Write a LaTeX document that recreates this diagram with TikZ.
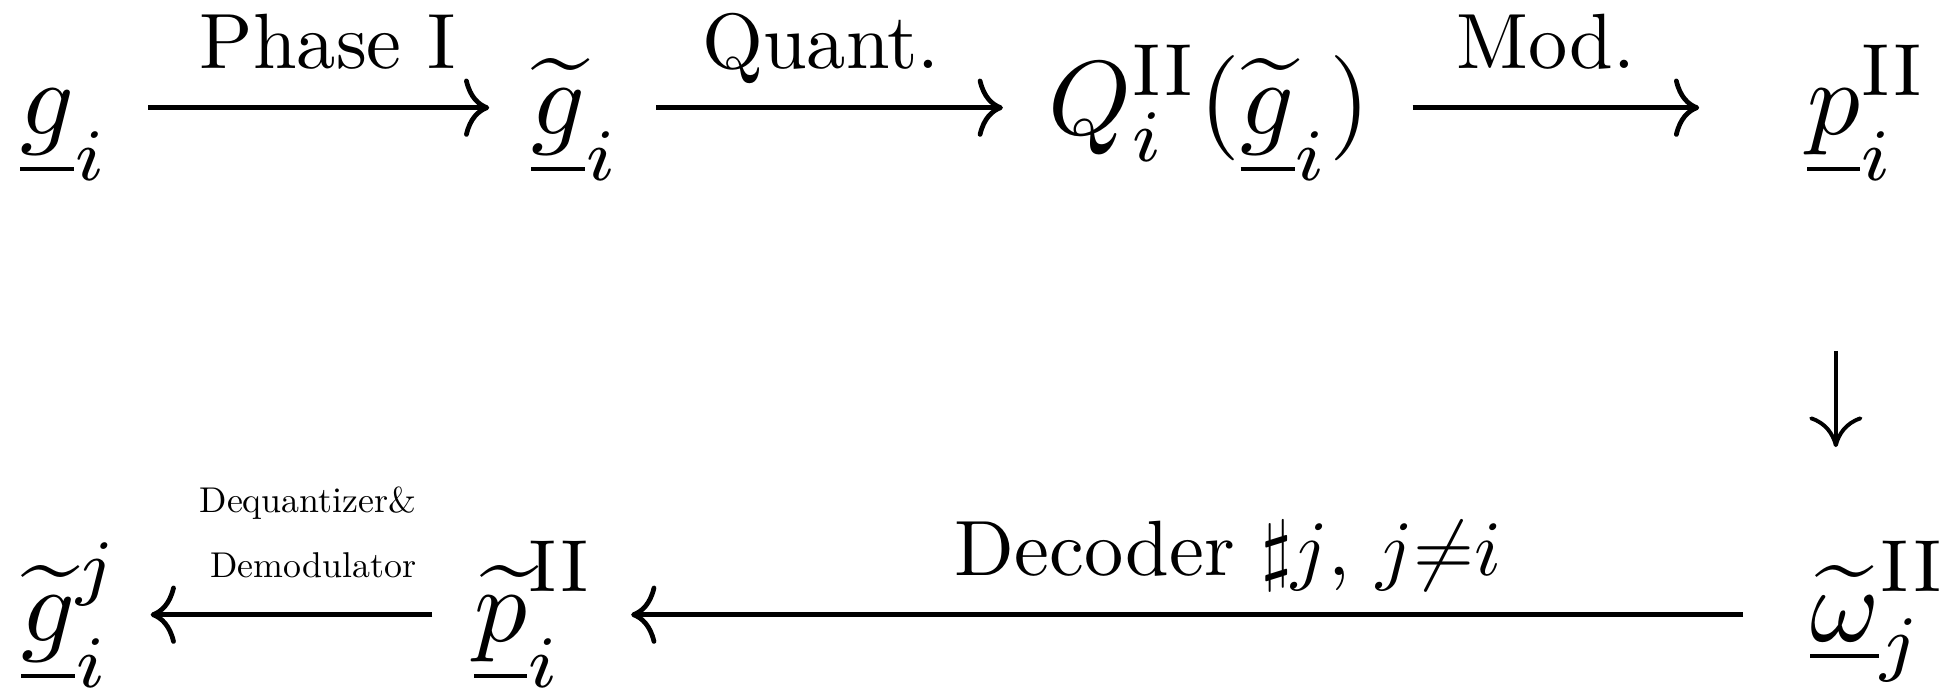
\RequirePackage{fix-cm}
\documentclass[tikz,border=0pt]{standalone}
\usepackage{amsmath}
\usepackage{amssymb}
\usepackage{tikz}
\usetikzlibrary{arrows.meta}

\tikzset{
  mathnode/.style={inner sep=0pt, anchor=base west, text height=8pt, text depth=3pt,
    font=\normalsize, scale=1.88},
  lbl/.style={inner sep=0pt, anchor=base, font=\normalsize, scale=1.4},
  tinylbl/.style={inner sep=0pt, anchor=base east, font=\normalsize, scale=0.64},
  arr/.style={line width=0.85pt, -{Computer Modern Rightarrow[length=4.5pt,width=10.4pt]}},
}

\begin{document}
\begin{tikzpicture}[x=0.17857pt, y=-0.17857pt]
    \useasboundingbox (0,0) rectangle (1952,693);

    % top row
    \node[mathnode] (gi) at (18,134) {$\underline{g}_i$};
    \node[mathnode] (gt) at (529,134) {$\underline{\widetilde{g}}_i$};
    \node[mathnode] (qg) at (1046,134) {$Q^{\mathrm{II}}_i(\underline{\widetilde{g}}_i)$};
    \node[mathnode] (pII) at (1805,134) {$\underline{p}^{\mathrm{II}}_i$};

    % bottom row
    \node[mathnode] (gj) at (19,641) {$\underline{\widetilde{g}}^j_i$};
    \node[mathnode] (pt) at (472,641) {$\underline{\widetilde{p}}^{\mathrm{II}}_i$};
    \node[mathnode] (wII) at (1808,641) {$\underline{\widetilde{\omega}}^{\mathrm{II}}_j$};

    \node[lbl] (phase) at (328,68) {Phase I};
    \node[lbl] (quant) at (821,68) {Quant.};
    \node[lbl] (mod) at (1546,68) {Mod.};
    \node[lbl] (dec) at (1228,575) {Decoder $\sharp j$, $j{\neq}i$};
    \node[tinylbl] (deq) at (417,512) {Dequantizer\&};
    \node[tinylbl] (demod) at (417,577) {Demodulator};

    \draw[arr, shorten <=6.6pt, shorten >=7.1pt] (gi) -- (gt);
    \draw[arr, shorten <=6.1pt, shorten >=7.7pt] (gt) -- (qg);
    \draw[arr, shorten <=7.1pt, shorten >=18.9pt] (qg) -- (pII);
    \draw[arr, line width=0.7pt, -{Computer Modern Rightarrow[length=5.5pt,width=9.5pt]},
      shorten <=32.7pt, shorten >=19.2pt] ([xshift=5.5pt]pII.south west) -- ([xshift=5.5pt]pII.south west |- wII.north);
    \draw[arr, shorten <=11.6pt, shorten >=6pt] (wII) -- (pt);
    \draw[arr, shorten <=7.1pt, shorten >=5.2pt] (pt) -- (gj);
\end{tikzpicture}
\end{document}
